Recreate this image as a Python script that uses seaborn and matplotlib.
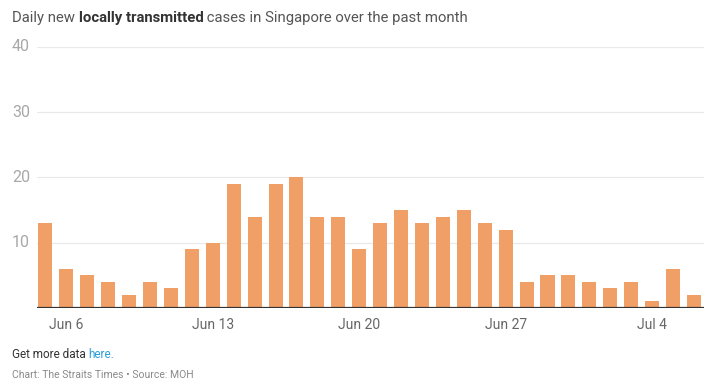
import matplotlib
matplotlib.use("Agg")
import matplotlib.pyplot as plt
import numpy as np
import pandas as pd
import seaborn as sns

# data: Jun 5 .. Jul 6
dates = pd.date_range("2021-06-05", "2021-07-06", freq="D")
cases = [13, 6, 5, 4, 2, 4, 3, 9, 10, 19, 14, 19, 20, 14, 14, 9,
         13, 15, 13, 14, 15, 13, 12, 4, 5, 5, 4, 3, 4, 1, 6, 2]
tick_days = ["Jun 6", "Jun 13", "Jun 20", "Jun 27", "Jul 4"]
y_ticks = [10, 20, 30, 40]

df = pd.DataFrame({"day": [d.strftime("%b %-d") for d in dates], "cases": cases})

sns.set_theme(style="white")
plt.rcParams["font.family"] = ["Roboto", "DejaVu Sans"]

fig = plt.figure(figsize=(7.18, 3.88), dpi=100)
ax = fig.add_axes([37/718, 1-308/388, (704-37)/718, (308-47)/388])

sns.barplot(data=df, x="day", y="cases", color="#f0a067", saturation=1,
            width=0.67, linewidth=0, ax=ax)

ax.set_ylim(0, 40)
ax.set_xlim(-0.4, len(cases) - 0.52)
for t in y_ticks:
    ax.axhline(t, color="#e9e9e9", lw=0.9, zorder=0)
ax.axhline(0, color="#333333", lw=1.6, zorder=3)
ax.set_yticks([])
for t in y_ticks:
    ax.text(12/718, ax.transData.transform((0, t))[1] / fig.bbox.height, str(t),
            transform=fig.transFigure, ha="left", va="center",
            fontsize=11.5, color="#a8a8a8")

pos = [df.index[df["day"] == d][0] for d in tick_days]
ax.set_xticks(pos)
ax.set_xticklabels(tick_days, fontsize=10, color="#666666")
ax.tick_params(axis="x", length=0, pad=7)
ax.set_xlabel("")
ax.set_ylabel("")
sns.despine(ax=ax, left=True, bottom=True, top=True, right=True)

# title with bold middle part
r = fig.canvas.get_renderer()
x = 12/718
y = 1 - 18/388
for txt, w, c in [("Daily new ", "normal", "#555555"),
                  ("locally transmitted", "bold", "#333333"),
                  (" cases in Singapore over the past month", "normal", "#555555")]:
    t = fig.text(x, y, txt, fontsize=10.7, fontweight=w, color=c,
                 ha="left", va="center")
    bb = t.get_window_extent(renderer=r)
    x = bb.x1 / fig.bbox.width

# footer
t = fig.text(12/718, 1 - 355/388, "Get more data ", fontsize=8.5,
             color="#333333", ha="left", va="center")
bb = t.get_window_extent(renderer=r)
fig.text(bb.x1 / fig.bbox.width, 1 - 355/388, "here.", fontsize=8.5,
         color="#2b9ed8", ha="left", va="center")
fig.text(12/718, 1 - 375/388, "Chart: The Straits Times \u2022 Source: MOH",
         fontsize=7.5, color="#8a8a8a", ha="left", va="center")

fig.savefig("out.png", dpi=100)
